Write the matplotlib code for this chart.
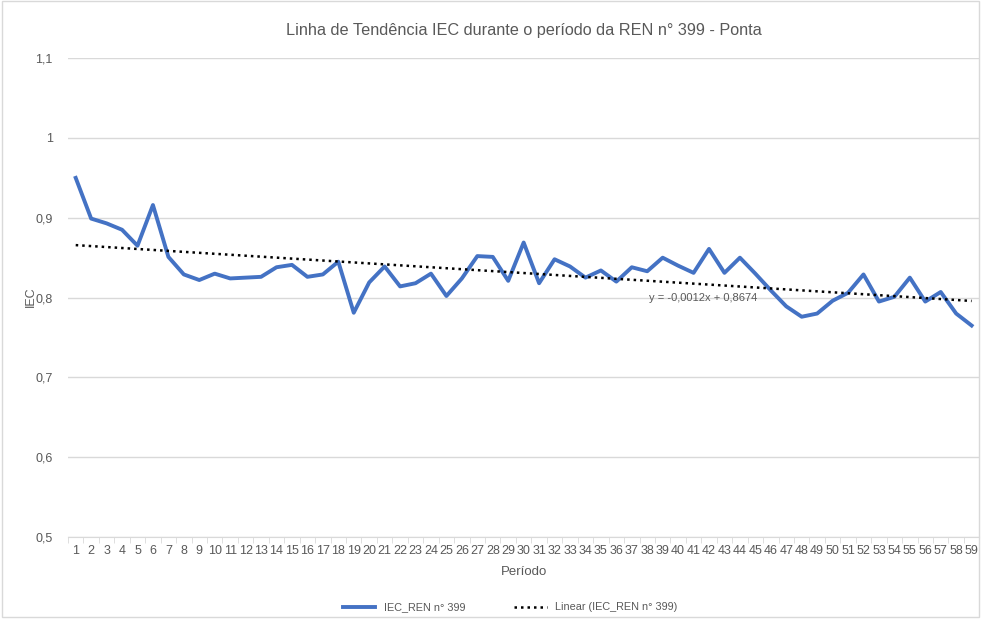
import matplotlib.pyplot as plt
from matplotlib.patches import Rectangle
import numpy as np

periodos = list(range(1, 60))
iec = [0.950, 0.899, 0.893, 0.885, 0.865, 0.916, 0.851, 0.829, 0.822, 0.830,
       0.824, 0.825, 0.826, 0.838, 0.841, 0.826, 0.829, 0.845, 0.781, 0.819,
       0.839, 0.814, 0.818, 0.830, 0.802, 0.824, 0.852, 0.851, 0.821, 0.869,
       0.818, 0.848, 0.839, 0.825, 0.834, 0.820, 0.838, 0.833, 0.850, 0.840,
       0.831, 0.861, 0.831, 0.850, 0.830, 0.809, 0.789, 0.776, 0.780, 0.796,
       0.806, 0.829, 0.795, 0.801, 0.825, 0.795, 0.807, 0.780, 0.765]
y_ticks = [0.5, 0.6, 0.7, 0.8, 0.9, 1.0, 1.1]
y_tick_labels = ["0,5", "0,6", "0,7", "0,8", "0,9", "1", "1,1"]

plt.rcParams['font.family'] = ['Liberation Sans', 'DejaVu Sans']
gray = '#595959'

fig = plt.figure(figsize=(9.81, 6.19), dpi=100)
fig.patches.append(Rectangle((0.002, 0.004), 0.996, 0.994, transform=fig.transFigure,
                             fill=False, edgecolor='#d9d9d9', lw=1))
ax = fig.add_axes([0.0693, 0.1325, 0.929, 0.7735])

x = np.array(periodos)
ax.plot(x, iec, color='#4472C4', lw=2.8, label='IEC_REN n° 399', solid_joinstyle='round')

# linear trend line
coef = np.polyfit(x, iec, 1)
ax.plot(x, np.polyval(coef, x), color='black', lw=1.8, linestyle=(0, (1, 1.6)),
        label='Linear (IEC_REN n° 399)')
ax.text(41.6, 0.7995, 'y = -0,0012x + 0,8674', fontsize=8, color=gray, ha='center', va='center')

ax.set_xlim(0.5, 59.5)
ax.set_ylim(0.5, 1.1)
ax.set_yticks(y_ticks)
ax.set_yticklabels(y_tick_labels)
ax.set_xticks(x)
ax.set_xticklabels([str(p) for p in periodos])
ax.set_xticks(np.arange(0.5, 60, 1), minor=True)
ax.tick_params(axis='x', which='major', length=0, labelsize=9, labelcolor=gray, pad=6)
ax.tick_params(axis='x', which='minor', length=4, color='#d9d9d9')
ax.tick_params(axis='y', length=0, labelsize=9, labelcolor=gray, pad=11)
ax.grid(axis='y', color='#d9d9d9', lw=1)
ax.set_axisbelow(True)
for s in ['top', 'right', 'left']:
    ax.spines[s].set_visible(False)
ax.spines['bottom'].set_color('#d9d9d9')

ax.set_title('Linha de Tendência IEC durante o período da REN n° 399 - Ponta',
             fontsize=11.7, color=gray, pad=17)
ax.set_xlabel('Período', fontsize=9.5, color=gray, labelpad=6)
fig.text(31 / 981, 1 - 297 / 619, 'IEC', rotation=90, fontsize=9, color=gray,
         ha='center', va='center')

fig.legend(loc='lower center', bbox_to_anchor=(0.52, -0.005), ncol=2, frameon=False,
           fontsize=7.8, labelcolor=gray, handlelength=3.0, columnspacing=4.5)

fig.savefig('out.png', dpi=100)
